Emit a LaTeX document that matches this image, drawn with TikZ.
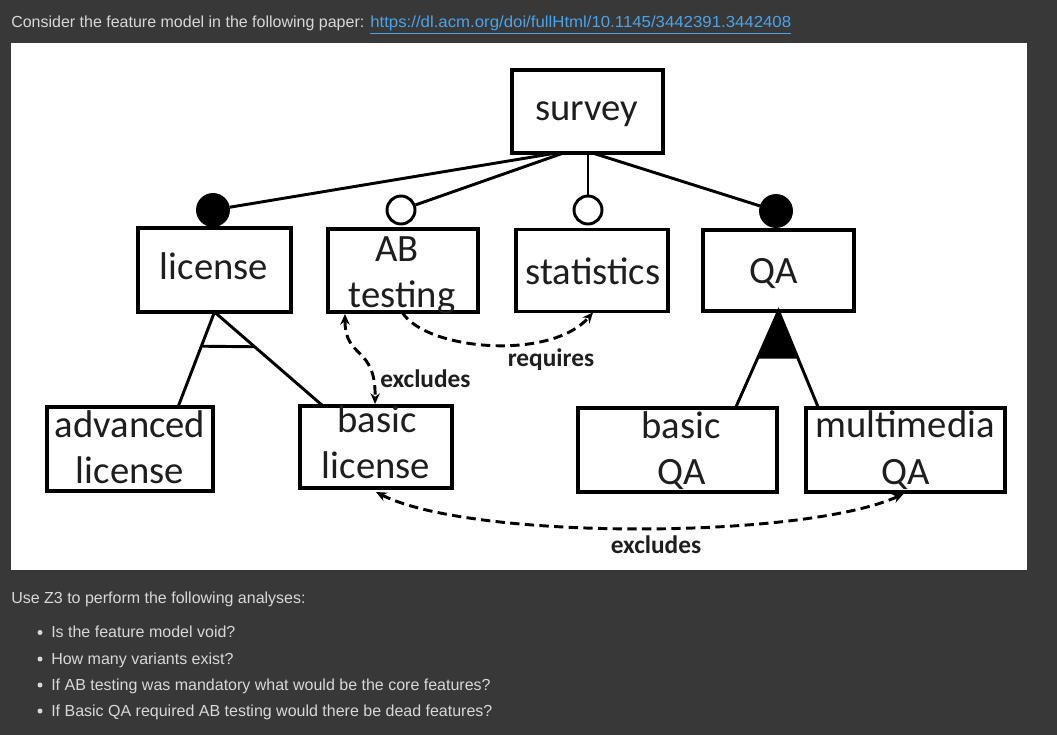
\documentclass[tikz,border=0pt]{standalone}
\usepackage{fontspec}
\setmainfont{Liberation Sans}
\newfontfamily\diafont{Carlito}
\usetikzlibrary{calc,arrows.meta}
\definecolor{bgdark}{RGB}{56,56,56}
\definecolor{txtlight}{RGB}{216,216,216}
\definecolor{linkblue}{RGB}{77,163,232}
\definecolor{inktext}{RGB}{30,30,30}
\begin{document}
\begin{tikzpicture}[x=0.75pt,y=-0.75pt,
  fbox/.style={draw=black, line width=2.4pt, rectangle, inner sep=0pt, outer sep=0pt},
  sz/.style 2 args={minimum width=#1*0.75pt, minimum height=#2*0.75pt},
  ftext/.style={font=\diafont\fontsize{29}{29}\selectfont, text=inktext, inner sep=0pt, anchor=base},
  lbl/.style={font=\diafont\bfseries\fontsize{19}{19}\selectfont, text=inktext, inner sep=0pt},
  conn/.style={line width=2.2pt, draw=black},
  opencirc/.style={circle, draw=black, line width=2.2pt, fill=white, minimum size=28*0.75pt, inner sep=0pt},
  fullcirc/.style={circle, draw=black, line width=2.2pt, fill=black, minimum size=31*0.75pt, inner sep=0pt},
  dep/.style={line width=2.2pt, dash pattern=on 7pt off 4pt},
  arrowr/.style={-{Stealth[length=8pt,width=7pt]}},
  arrowb/.style={{Stealth[length=8pt,width=7pt]}-{Stealth[length=8pt,width=7pt]}},
  html/.style={anchor=base west, inner sep=0pt, text=txtlight, font=\fontsize{12}{14}\selectfont},
  bul/.style={circle, fill=txtlight, minimum size=5*0.75pt, inner sep=0pt}
]
\useasboundingbox (0,0) rectangle (1057,735);
\fill[bgdark] (0,0) rectangle (1057,735);
\fill[white] (11,43) rectangle (1027,570);

% boxes
\node[fbox, sz={151}{83}] (survey) at (587.5,111.5) {};
\node[fbox, sz={153}{84}] (license) at (214.5,270) {};
\node[fbox, sz={150}{83}] (AB) at (403,270.5) {};
\node[fbox, sz={152}{82}] (stat) at (592,270.5) {};
\node[fbox, sz={151}{81}] (QA) at (778.5,270.5) {};
\node[fbox, sz={166}{84}] (advlic) at (130,449) {};
\node[fbox, sz={152}{82}] (baslic) at (376,447) {};
\node[fbox, sz={199}{84}] (basqa) at (677.5,450) {};
\node[fbox, sz={199}{84}] (mmqa) at (905.5,450) {};

% circles
\node[fullcirc] (cLic) at (213,210) {};
\node[opencirc] (cAB) at (401,210) {};
\node[opencirc] (cStat) at (588,210) {};
\node[fullcirc] (cQA) at (776,211) {};

% connectors survey -> children
\draw[conn] ($(survey.south)+(-31,0)$) -- (cLic);
\draw[conn] ($(survey.south)+(-24,0)$) -- (cAB);
\draw[conn] (cStat |- survey.south) -- (cStat);
\draw[conn] ($(survey.south)+(5,0)$) -- (cQA);

% alternative group
\coordinate (licL) at ($(advlic.north)+(48,0)$);
\coordinate (licR) at ($(baslic.north)+(-53,0)$);
\draw[conn] (licL) -- (license.south) -- (licR);
\draw[conn] ($(license.south)!0.36!(licL)$) -- ($(license.south)!0.37!(licR)$);

% or group
\coordinate (qaL) at ($(basqa.north)+(58,0)$);
\coordinate (qaR) at ($(mmqa.north)+(-87,0)$);
\draw[conn] (qaL) -- (QA.south) -- (qaR);
\fill[black] (QA.south) -- ($(QA.south)!0.49!(qaL)$) -- ($(QA.south)!0.49!(qaR)$) -- cycle;

% cross-tree constraints
\draw[dep, arrowr] ($(AB.south)+(-1,0)$) .. controls ($(AB.south)+(22,38)$) and ($(stat.south)+(-42,50)$) .. ($(stat.south)+(1,1)$);
\draw[dep, arrowb] ($(AB.south west)+(17,2)$) .. controls ($(AB.south west)+(17,48)$) and ($(baslic.north)+(0,-61)$) .. ($(baslic.north)+(-1,-2)$);
\draw[dep, arrowb] ($(baslic.south)+(0,4)$) .. controls ($(baslic.south)+(94,52)$) and ($(mmqa.south)+(-105,48)$) .. ($(mmqa.south)+(-2,2)$);

% feature names
\node[ftext] (tSurvey) at (587,121) {survey};
\node[ftext] (tLic) at (214,279) {license};
\node[ftext] (tAB1) at (397,261) {AB};
\node[ftext] (tAB2) at (402,307) {testing};
\node[ftext] (tStat) at (593,284) {statistics};
\node[ftext] (tQA) at (774,283) {QA};
\node[ftext] (tAdv1) at (130,437) {advanced};
\node[ftext] (tAdv2) at (130,483) {license};
\node[ftext] (tBas1) at (377,432) {basic};
\node[ftext] (tBas2) at (376,478) {license};
\node[ftext] (tBq1) at (681,438) {basic};
\node[ftext] (tBq2) at (682,484) {QA};
\node[ftext] (tMm1) at (905,437) {multimedia};
\node[ftext] (tMm2) at (906,484) {QA};

% constraint labels
\node[lbl, anchor=base] (lreq) at (551,366) {requires};
\node[lbl, anchor=base west] (lexc1) at (380,387) {excludes};
\node[lbl, anchor=base] (lexc2) at (656,553) {excludes};

% surrounding text
\node[html] (intro) at (11,28) {Consider the feature model in the following paper: \textcolor{linkblue}{\scalebox{1.05}[1]{\underline{https://dl.acm.org/doi/fullHtml/10.1145/3442391.3442408}}}};
\node[html] (usez) at (11,603) {Use Z3 to perform the following analyses:};
\node[bul] (b1) at (40,632.5) {};
\node[bul] (b2) at (40,659) {};
\node[bul] (b3) at (40,685) {};
\node[bul] (b4) at (40,711) {};
\node[html] (q1) at (51,637) {Is the feature model void?};
\node[html] (q2) at (51,664) {How many variants exist?};
\node[html] (q3) at (51,690) {If AB testing was mandatory what would be the core features?};
\node[html] (q4) at (51,716) {If Basic QA required AB testing would there be dead features?};
\end{tikzpicture}
\end{document}
